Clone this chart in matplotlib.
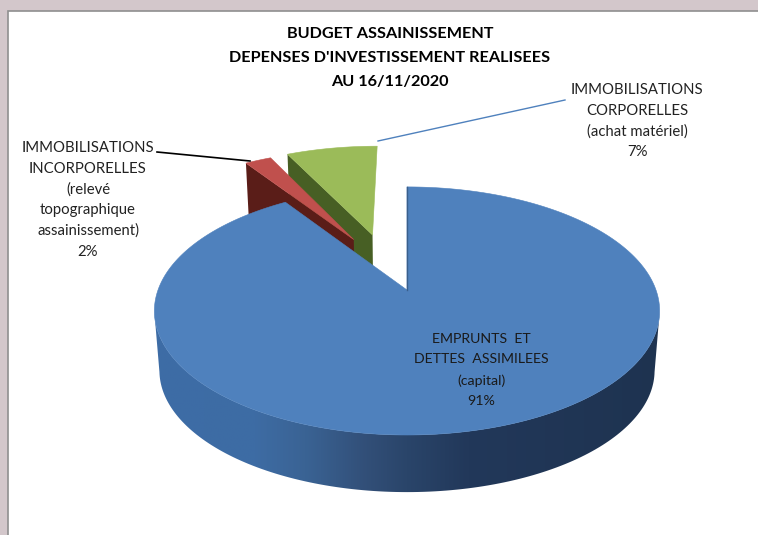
import numpy as np
import matplotlib
matplotlib.use('Agg')
from matplotlib import pyplot as plt
from matplotlib.colors import LinearSegmentedColormap
from matplotlib.patches import Polygon, Rectangle

plt.rcParams['font.family'] = ['Lato', 'DejaVu Sans']

title_lines = ['BUDGET ASSAINISSEMENT', "DEPENSES D'INVESTISSEMENT REALISEES", 'AU 16/11/2020']
slice_names = ['EMPRUNTS  ET\nDETTES  ASSIMILEES\n(capital)',
               'IMMOBILISATIONS\nINCORPORELLES\n(relevé\ntopographique\nassainissement)',
               'IMMOBILISATIONS\nCORPORELLES\n(achat matériel)']
# labels are rounded, the values are estimated from the slice angles
slice_values = [90.6, 2.1, 7.3]
slice_pct = ['91%', '2%', '7%']

# colours of top face and of the cut wall for each slice
top_colors = ['#4f81bd', '#c0504d', '#9bbb59']
wall_colors = ['#2b4a70', '#5a1d18', '#475f24']

# projection of the tilted disc, all in pixels of the figure
xc, yc = 407, 290
rx, ry = 249, 120.5
persp = 0.169
depth = 60
bottom_scale = 0.98
explode = [(0, 0), (-0.23, 0.45), (-0.15, 0.495)]


def top_xy(u, v):
    w = 1 + persp * v
    return xc + rx * u / w, yc - ry * v / w


def bot_xy(u, v):
    w = 1 + persp * v
    return xc + bottom_scale * rx * u / w, yc + depth - bottom_scale * ry * v / w


fig = plt.figure(figsize=(7.58, 5.35), dpi=100, facecolor='#d3c7cb')
ax = fig.add_axes([0, 0, 1, 1])
ax.set_xlim(0, 758)
ax.set_ylim(535, 0)
ax.axis('off')

# chart area with its thin grey edge, open on the right and at the bottom
ax.add_patch(Rectangle((8, 11), 760, 540, fc='white', ec='#8f8f8f', lw=1.2))

fracs = np.array(slice_values) / sum(slice_values)
ends = np.cumsum(fracs) * 2 * np.pi
starts = ends - fracs * 2 * np.pi

side_cmap = LinearSegmentedColormap.from_list(
    'side', [(0, '#3d6ca6'), (0.2, '#3e6ca4'), (0.3, '#3a6394'), (0.42, '#324f78'),
             (0.5, '#2a456a'), (0.62, '#22385a'), (1, '#1e3350')])

# back slices first, blue last so it hides their lower parts
for i in [2, 1, 0]:
    du, dv = explode[i]
    t = np.linspace(starts[i], ends[i], 300)
    u = du + np.sin(t)
    v = dv + np.cos(t)
    if i == 0:
        # outer side, gradient clipped to the ring; ends at the widest point of the ellipse
        front = np.cos(t) < -persp
        tx, ty = top_xy(u[front], v[front])
        bx, by = bot_xy(u[front], v[front])
        side = Polygon(np.c_[np.r_[tx, bx[::-1]], np.r_[ty, by[::-1]]], fc='none', ec='none')
        ax.add_patch(side)
        im = ax.imshow(np.linspace(0, 1, 256)[None, :], cmap=side_cmap, aspect='auto', zorder=1,
                       extent=[tx.min() - 2, tx.max() + 2, by.max() + 2, ty.min() - 2])
        im.set_clip_path(side)
        ax.set_xlim(0, 758)
        ax.set_ylim(535, 0)
    else:
        # the wall along the first cut edge
        ax0, ay0 = top_xy(du, dv)
        ox, oy = top_xy(u[0], v[0])
        bx, by = bot_xy(du, dv)
        ex, ey = bot_xy(u[0], v[0])
        ax.add_patch(Polygon([(ax0, ay0), (ox, oy), (ex, ey), (bx, by)],
                             fc=wall_colors[i], ec='none'))
    xs, ys = top_xy(np.r_[du, u], np.r_[dv, v])
    ax.add_patch(Polygon(np.c_[xs, ys], fc=top_colors[i], ec=top_colors[i], lw=0.4, zorder=1.5 if i == 0 else 1))

# dark line on the right cut edge of the blue slice
x0, y0 = top_xy(0, 1)
ax.plot([x0, xc], [y0, yc], color='#3a5f8c', lw=1)

# leader lines
ax.plot([157, 250], [152, 161], color='black', lw=1.2)
ax.plot([378, 565], [141, 100], color='#4f81bd', lw=1)

ax.text(390, 58, '\n'.join(title_lines), ha='center', va='center', fontsize=11.7,
        fontweight='bold', color='black', linespacing=1.93)
ax.text(481, 370, slice_names[0] + '\n' + slice_pct[0], ha='center', va='center',
        fontsize=10.2, color='#1a1a1a', linespacing=1.82)
ax.text(88, 200, slice_names[1] + '\n' + slice_pct[1], ha='center', va='center',
        fontsize=10.7, color='#222222', linespacing=1.585)
ax.text(637, 121, slice_names[2] + '\n' + slice_pct[2], ha='center', va='center',
        fontsize=10.7, color='#222222', linespacing=1.585)

fig.savefig('out.png', dpi=100, facecolor=fig.get_facecolor())
